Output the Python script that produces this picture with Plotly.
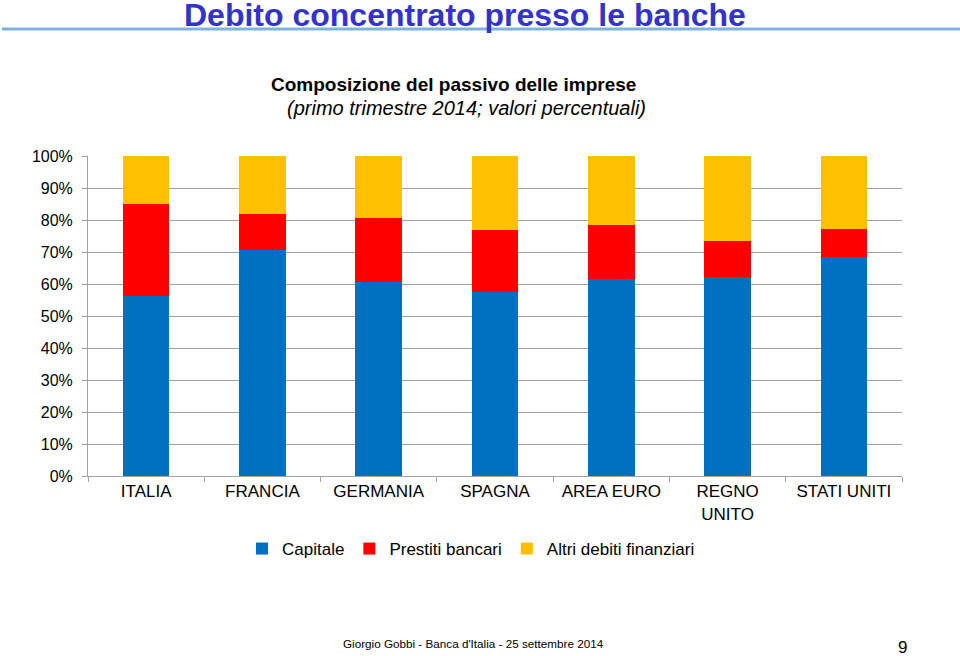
import plotly.graph_objects as go

categories = ["ITALIA", "FRANCIA", "GERMANIA", "SPAGNA", "AREA EURO", "REGNO<br>UNITO", "STATI UNITI"]
capitale = [56.2, 70.6, 60.6, 57.5, 61.5, 62.2, 68.3]
prestiti = [28.7, 11.2, 19.9, 19.5, 17.0, 11.3, 9.0]
altri = [15.1, 18.2, 19.5, 23.0, 21.5, 26.5, 22.7]
y_ticks = [0, 10, 20, 30, 40, 50, 60, 70, 80, 90, 100]
y_tick_labels = [f"{v}%" for v in y_ticks]

FONT = "Liberation Sans, Arial, sans-serif"
W, H = 960, 656
L, T = 88, 156
R = W - 902
B = H - 476
PW, PH = W - L - R, H - T - B

def px(x):
    return (x - L) / PW

def py(y):
    return (H - B - y) / PH

fig = go.Figure()
fig.add_bar(x=categories, y=capitale, name="Capitale", marker_color="#0070C0", marker_line_width=0)
fig.add_bar(x=categories, y=prestiti, name="Prestiti bancari", marker_color="#FF0000", marker_line_width=0)
fig.add_bar(x=categories, y=altri, name="Altri debiti finanziari", marker_color="#FFC000", marker_line_width=0)

fig.update_layout(
    width=W, height=H,
    margin=dict(l=L, r=R, t=T, b=B, pad=0),
    barmode="stack",
    bargap=0.6,
    plot_bgcolor="white",
    paper_bgcolor="white",
    font=dict(family=FONT, size=16, color="#000000"),
    showlegend=True,
    legend=dict(
        orientation="h", x=px(471), xanchor="center", y=py(549), yanchor="middle",
        font=dict(size=17, family=FONT), traceorder="normal", itemwidth=30,
        bgcolor="rgba(0,0,0,0)",
    ),
    xaxis=dict(
        showline=True, linecolor="#A0A0A0", linewidth=1,
        ticks="outside", ticklen=5, tickcolor="#A0A0A0", tickson="boundaries",
        showgrid=False, tickfont=dict(size=17, family=FONT),
    ),
    yaxis=dict(
        range=[0, 100], tickvals=y_ticks, ticktext=y_tick_labels,
        showline=True, linecolor="#A0A0A0", linewidth=1,
        ticks="outside", ticklen=5, tickcolor="#A0A0A0",
        showgrid=True, gridcolor="#A0A0A0", gridwidth=1,
        zeroline=False, tickfont=dict(size=16, family=FONT),
        ticklabelstandoff=6,
    ),
)

fig.add_annotation(
    text="<b>Debito concentrato presso le banche</b>", xref="paper", yref="paper",
    x=px(465), y=py(15), xanchor="center", yanchor="middle", showarrow=False,
    font=dict(size=32, color="#3333CC", family=FONT),
)
fig.add_shape(
    type="line", xref="paper", yref="paper",
    x0=px(2), x1=px(960), y0=py(29), y1=py(29),
    line=dict(color="#7FB2DD", width=3),
)
fig.add_annotation(
    text="<b>Composizione del passivo delle imprese</b>", xref="paper", yref="paper",
    x=px(453), y=py(85), xanchor="center", yanchor="middle", showarrow=False,
    font=dict(size=19, color="#000000", family=FONT),
)
fig.add_annotation(
    text="<i>(primo trimestre 2014; valori percentuali)</i>", xref="paper", yref="paper",
    x=px(466), y=py(108), xanchor="center", yanchor="middle", showarrow=False,
    font=dict(size=20, color="#000000", family=FONT),
)
fig.add_annotation(
    text="Giorgio Gobbi - Banca d'Italia - 25 settembre 2014", xref="paper", yref="paper",
    x=px(473), y=py(643), xanchor="center", yanchor="middle", showarrow=False,
    font=dict(size=11.7, color="#000000", family=FONT),
)
fig.add_annotation(
    text="9", xref="paper", yref="paper",
    x=px(902), y=py(647), xanchor="center", yanchor="middle", showarrow=False,
    font=dict(size=17, color="#000000", family=FONT),
)

fig.write_html(
    "out.html",
    config={"displayModeBar": False},
    post_script="document.body.style.margin='0';document.body.style.overflow='hidden';",
)
